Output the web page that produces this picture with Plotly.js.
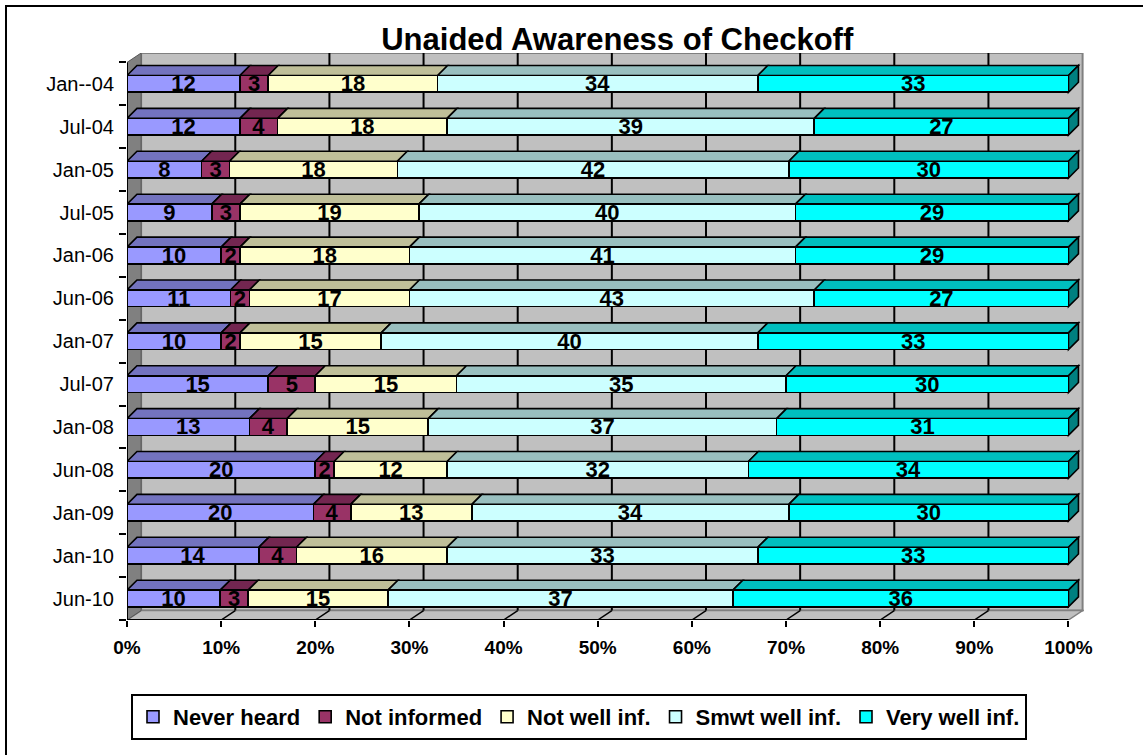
<!DOCTYPE html>
<html>
<head>
<meta charset="utf-8">
<script src="https://cdn.plot.ly/plotly-3.0.1.min.js"></script>
<style>
  html, body { margin: 0; padding: 0; background: #ffffff; overflow: hidden; }
  #frame { position: absolute; left: 5px; top: 5px; width: 1160px; height: 770px; border: 2.5px solid #000; box-sizing: border-box; }
  #chart { position: absolute; left: 0; top: 0; width: 1143px; height: 755px; }
</style>
</head>
<body>
<div id="frame"></div>
<div id="chart"></div>
<script>
// ---- data (top row first) ----
const categories = ['Jan--04','Jul-04','Jan-05','Jul-05','Jan-06','Jun-06','Jan-07','Jul-07','Jan-08','Jun-08','Jan-09','Jan-10','Jun-10'];
const neverHeard  = [12, 12,  8,  9, 10, 11, 10, 15, 13, 20, 20, 14, 10];
const notInformed = [ 3,  4,  3,  3,  2,  2,  2,  5,  4,  2,  4,  4,  3];
const notWellInf  = [18, 18, 18, 19, 18, 17, 15, 15, 15, 12, 13, 16, 15];
const smwtWellInf = [34, 39, 42, 40, 41, 43, 40, 35, 37, 32, 34, 33, 37];
const veryWellInf = [33, 27, 30, 29, 29, 27, 33, 30, 31, 34, 30, 33, 36];
const seriesNames = ['Never heard', 'Not informed', 'Not well inf.', 'Smwt well inf.', 'Very well inf.'];
const xTicks = [0, 10, 20, 30, 40, 50, 60, 70, 80, 90, 100];

// ---- styling ----
const FONT = 'Liberation Sans, Arial, Helvetica, sans-serif';
const frontColors = ['#9999FF', '#993366', '#FFFFCC', '#CCFFFF', '#00FFFF'];
const topColors   = ['#7373BF', '#732650', '#BFBF99', '#99BFBF', '#00BFBF'];
const endColor = '#008080';
const series = [neverHeard, notInformed, notWellInf, smwtWellInf, veryWellInf];

const n = categories.length;
const yPos = categories.map((c, i) => n - 1 - i);   // top row highest
const BW = 0.39;          // bar front thickness (category units)
const BDX = 1.06, BDY = 0.233;   // bar depth offset
const WDX = 1.5, WDY = 0.22;     // wall depth offset
const XMAX = 101.65, YMIN = -0.5, YTOP = 12.5 + WDY;

const traces = series.map((vals, s) => ({
  type: 'bar',
  orientation: 'h',
  name: seriesNames[s],
  x: vals,
  y: yPos,
  width: BW,
  text: vals.map(String),
  texttemplate: '%{text}',
  textposition: 'inside',
  insidetextanchor: 'middle',
  textangle: 0,
  constraintext: 'none',
  cliponaxis: false,
  textfont: { family: FONT, size: 22, color: '#000000', weight: 'bold' },
  insidetextfont: { family: FONT, size: 22, color: '#000000', weight: 'bold' },
  marker: { color: frontColors[s], line: { color: '#000000', width: 1.6 } },
  hoverinfo: 'skip'
}));

// ---- 3D decoration shapes (computed from data) ----
const shapes = [];
const P = (pts) => 'M' + pts.map(p => p[0] + ',' + p[1]).join('L') + 'Z';
// back wall
shapes.push({ type: 'path', layer: 'below', xref: 'x', yref: 'y',
  path: P([[WDX, YMIN + WDY], [100 + WDX, YMIN + WDY], [100 + WDX, YTOP], [WDX, YTOP]]),
  fillcolor: '#C0C0C0', line: { color: '#808080', width: 2 } });
// floor
shapes.push({ type: 'path', layer: 'below', xref: 'x', yref: 'y',
  path: P([[0, YMIN], [100, YMIN], [100 + WDX, YMIN + WDY], [WDX, YMIN + WDY]]),
  fillcolor: '#C0C0C0', line: { color: '#808080', width: 1.5 } });
// side wall
shapes.push({ type: 'path', layer: 'below', xref: 'x', yref: 'y',
  path: P([[0, YMIN], [WDX, YMIN + WDY], [WDX, YTOP], [0, YTOP - WDY]]),
  fillcolor: '#808080', line: { color: '#555555', width: 1 } });
// back-wall gridlines and floor gridlines
xTicks.forEach(v => {
  if (v > 0 && v < 100) {
    shapes.push({ type: 'line', layer: 'below', xref: 'x', yref: 'y',
      x0: v + WDX, x1: v + WDX, y0: YMIN + WDY, y1: YTOP, line: { color: '#000000', width: 2 } });
    shapes.push({ type: 'line', layer: 'below', xref: 'x', yref: 'y',
      x0: v, x1: v + WDX, y0: YMIN, y1: YMIN + WDY, line: { color: '#000000', width: 1.5 } });
  }
});
// bar top faces and end faces
categories.forEach((c, i) => {
  const total = series.reduce((a, sv) => a + sv[i], 0);
  let cum = 0;
  const yc = yPos[i];
  series.forEach((sv, s) => {
    const a = cum / total * 100;
    cum += sv[i];
    const b = cum / total * 100;
    shapes.push({ type: 'path', layer: 'below', xref: 'x', yref: 'y',
      path: P([[a, yc + BW / 2], [a + BDX, yc + BW / 2 + BDY], [b + BDX, yc + BW / 2 + BDY], [b, yc + BW / 2]]),
      fillcolor: topColors[s], line: { color: '#000000', width: 1.6 } });
  });
  shapes.push({ type: 'path', layer: 'below', xref: 'x', yref: 'y',
    path: P([[100, yc - BW / 2], [100, yc + BW / 2], [100 + BDX, yc + BW / 2 + BDY], [100 + BDX, yc - BW / 2 + BDY]]),
    fillcolor: endColor, line: { color: '#000000', width: 1.6 } });
});
// front-left edge (value axis line)
shapes.push({ type: 'line', layer: 'above', xref: 'x', yref: 'y',
  x0: 0, x1: 0, y0: YMIN, y1: YTOP - WDY, line: { color: '#000000', width: 2 } });

const boundaries = [];
for (let k = 0; k <= n; k++) boundaries.push(k - 0.5);

const layout = {
  width: 1143,
  height: 755,
  margin: { l: 127, r: 59, t: 53, b: 134.5, pad: 0 },
  paper_bgcolor: 'rgba(0,0,0,0)',
  plot_bgcolor: 'rgba(0,0,0,0)',
  barmode: 'stack',
  barnorm: 'percent',
  font: { family: FONT, color: '#000000' },
  title: {
    text: 'Unaided Awareness of Checkoff',
    font: { family: FONT, size: 31, color: '#000000', weight: 'bold' },
    xref: 'container', x: 0.54, xanchor: 'center',
    yref: 'container', y: 1 - 39 / 755, yanchor: 'middle'
  },
  xaxis: {
    range: [0, XMAX],
    tickvals: xTicks,
    ticktext: xTicks.map(v => v + '%'),
    ticks: 'outside', ticklen: 6, tickwidth: 2, tickcolor: '#000000',
    ticklabelstandoff: 4,
    tickfont: { family: FONT, size: 19, color: '#000000', weight: 'bold' },
    showgrid: false, zeroline: false,
    showline: false,
    automargin: false, fixedrange: true
  },
  yaxis: {
    range: [YMIN, YTOP],
    tickvals: yPos,
    ticktext: categories,
    ticks: '',
    ticklabelstandoff: 12,
    tickfont: { family: FONT, size: 20, color: '#000000' },
    minor: { tickvals: boundaries, ticks: 'outside', ticklen: 7, tickwidth: 2, tickcolor: '#000000', showgrid: false },
    showgrid: false, zeroline: false, showline: false,
    automargin: false, fixedrange: true
  },
  shapes: shapes.concat([{ type: 'line', layer: 'above', xref: 'x', yref: 'y',
    x0: 0, x1: 100, y0: YMIN, y1: YMIN, line: { color: '#000000', width: 2 } }]),
  showlegend: true,
  legend: {
    orientation: 'h',
    xref: 'container', x: 579 / 1143, xanchor: 'center',
    yref: 'container', y: 1 - 694 / 755, yanchor: 'top',
    bordercolor: '#000000', borderwidth: 2,
    bgcolor: '#FFFFFF',
    font: { family: FONT, size: 22, color: '#000000', weight: 'bold' },
    traceorder: 'normal',
    itemclick: false, itemdoubleclick: false
  }
};

Plotly.newPlot('chart', traces, layout, { displayModeBar: false, staticPlot: true });
</script>
</body>
</html>
